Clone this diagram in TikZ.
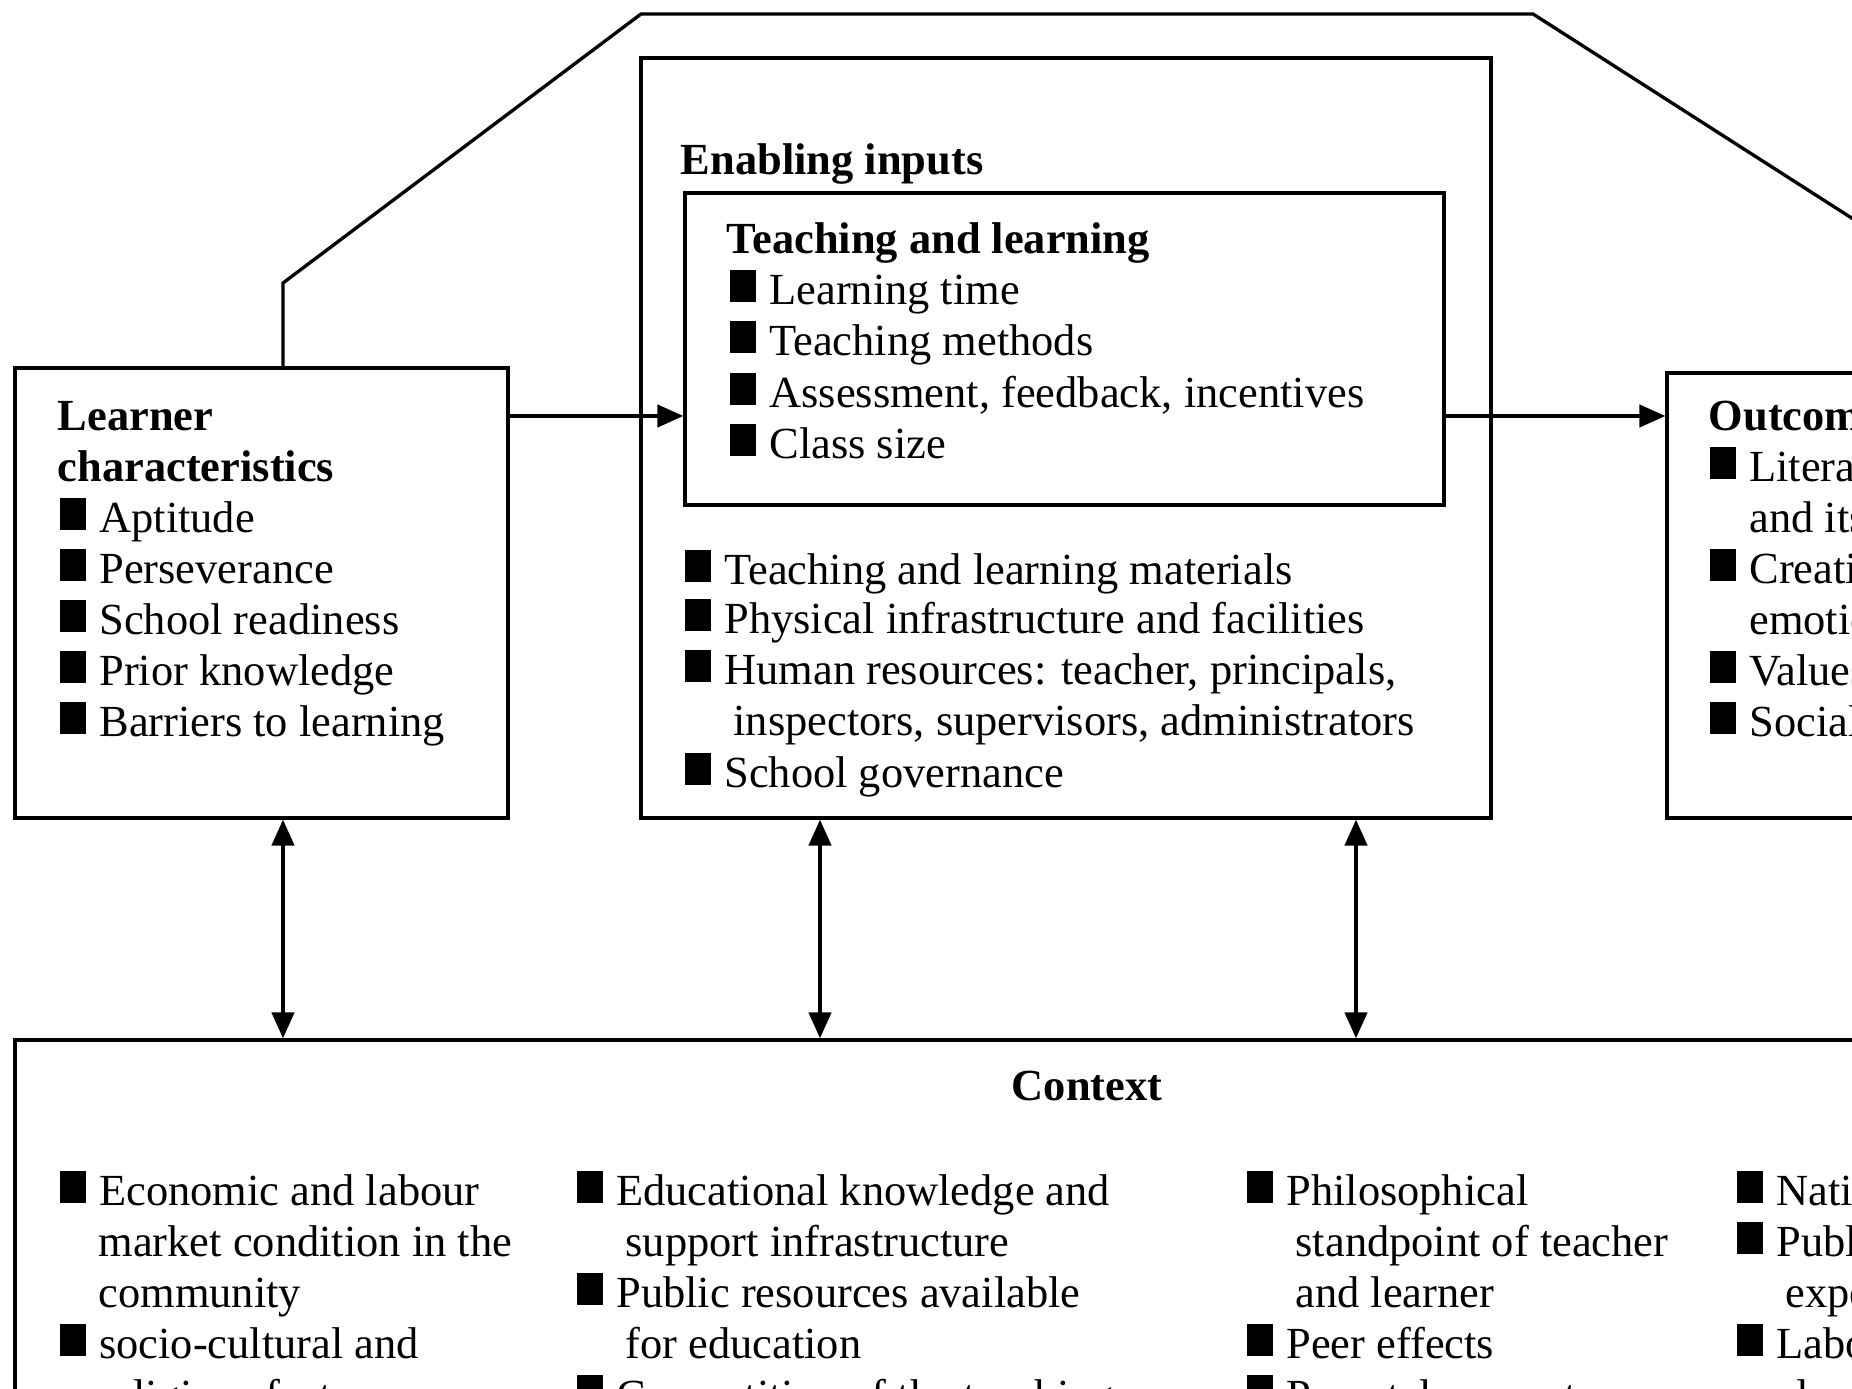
\documentclass[tikz,border=0pt]{standalone}
\usepackage{fontspec}
\setmainfont{Liberation Serif}
\usetikzlibrary{arrows.meta,fit}
\newcommand{\sqb}{\rule[0.06em]{0.6em}{0.72em}\hspace{3.5pt}}
\newcommand{\cnt}{\hspace*{\dimexpr 0.6em+6pt\relax}}
\newcommand{\cno}{\hspace*{\dimexpr 0.6em+3.5pt\relax}}
\tikzset{
  box/.style={draw, line width=0.9pt, inner sep=0pt},
  txt/.style={anchor=base west, inner sep=0pt, font=\fontsize{12}{14}\selectfont},
  hd/.style={txt, font=\fontsize{12}{14}\selectfont\bfseries},
  arr/.style={line width=1pt, -{Triangle[length=7pt,width=6pt]}},
  darr/.style={line width=1pt, {Triangle[length=7pt,width=6pt]}-{Triangle[length=7pt,width=6pt]}},
}
\begin{document}
\begin{tikzpicture}[x=0.27pt,y=0.27pt,yscale=-1]
\useasboundingbox (0,0) rectangle (1852,1389);
\clip (0,0) rectangle (1852,1389);

% Boxes
\node[box, fit={(15,368) (508,818)}] (learner) {};
\node[box, fit={(641,58) (1491,818)}] (enabling) {};
\node[box, fit={(685,193) (1444,505)}] (teaching) {};
\node[box, fit={(1667,373) (1950,818)}] (outcomes) {};
\node[box, fit={(15,1040) (1950,1500)}] (context) {};

% Outer frame
\coordinate (c1) at (283,0);
\coordinate (c2) at (820,0);
\coordinate (c3) at (1356,0);
\coordinate (kink) at (283,283);
\coordinate (topl) at (641,14);
\coordinate (topr) at (1533,14);
\coordinate (off) at (1900,249);
\draw[line width=0.9pt] (learner.north -| c1) -- (kink) -- (topl) -- (topr) -- (off);

% Arrows
\coordinate (ay) at (0,416);
\draw[arr] (learner.east |- ay) -- (teaching.west |- ay);
\draw[arr] (teaching.east |- ay) -- (outcomes.west |- ay);
\foreach \c in {c1,c2,c3}
  \draw[darr] (learner.south -| \c) -- (context.north -| \c);

% Learner characteristics
\node[hd] (lh1) at (57,431) {Learner};
\node[hd] (lh2) at (57,482) {characteristics};
\foreach \y/\t [count=\n] in {533/Aptitude, 584/Perseverance, 635/School readiness,
    686/Prior knowledge, 737/Barriers to learning}
  \node[txt] (li\n) at (59,\y) {\sqb\t};

% Enabling inputs
\node[hd] (eh) at (680,175) {Enabling inputs};
\node[hd] (th) at (726,254) {Teaching and learning};
\foreach \y/\t [count=\n] in {305/Learning time, 356/Teaching methods,
    408/{Assessment, feedback, incentives}, 459/Class size}
  \node[txt] (ti\n) at (729,\y) {\sqb\t};
\foreach \y/\t [count=\n] in {585/\sqb Teaching and learning materials,
    634/\sqb Physical infrastructure and facilities,
    685/{\sqb Human resources: teacher, principals,},
    736/{\cnt inspectors, supervisors, administrators},
    788/\sqb School governance}
  \node[txt] (ei\n) at (684,\y) {\t};

% Outcomes
\node[hd] (oh) at (1708,431) {Outcomes};
\foreach \y/\t [count=\n] in {482/{\sqb Literacy, numeracy}, 533/\cno and its,
    584/\sqb Creative and, 635/\cno emotional skills, 686/\sqb Values,
    737/\sqb Social benefits}
  \node[txt] (oi\n) at (1709,\y) {\t};

% Context
\node[hd, anchor=base] (ch) at (1087,1101) {Context};
\foreach \y/\t [count=\n] in {1206/\sqb Economic and labour,
    1257/\hspace*{10.5pt}market condition in the, 1308/\hspace*{10.5pt}community,
    1359/\sqb socio-cultural and, 1410/\hspace*{10.5pt}religious factors}
  \node[txt] (ka\n) at (59,\y) {\t};
\foreach \y/\t [count=\n] in {1206/\sqb Educational knowledge and,
    1257/\cnt support infrastructure, 1308/\sqb Public resources available,
    1359/\cnt for education, 1410/\sqb Competition of the teaching}
  \node[txt] (kb\n) at (576,\y) {\t};
\foreach \y/\t [count=\n] in {1206/\sqb Philosophical,
    1257/\cnt standpoint of teacher, 1308/\cnt and learner,
    1359/\sqb Peer effects, 1410/\sqb Parental support}
  \node[txt] (kc\n) at (1246,\y) {\t};
\foreach \y/\t [count=\n] in {1206/\sqb National goals and, 1257/\sqb Public,
    1308/\cnt expectations, 1359/\sqb Labour market, 1410/\cnt demands}
  \node[txt] (kd\n) at (1736,\y) {\t};
\end{tikzpicture}
\end{document}
